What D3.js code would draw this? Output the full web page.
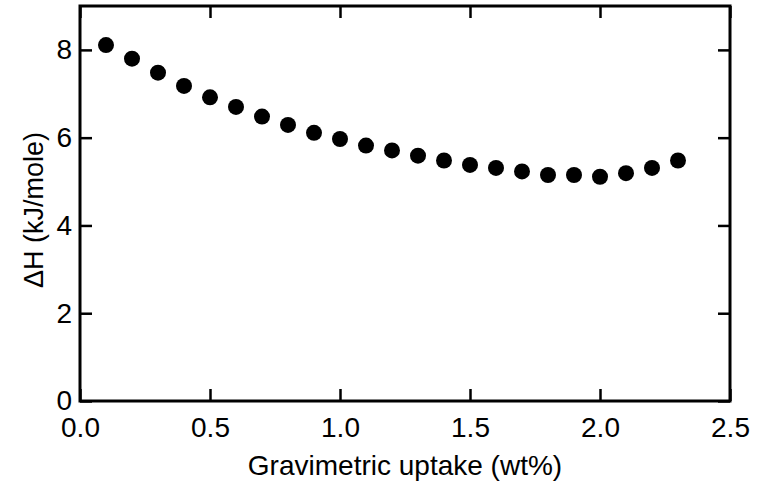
<!DOCTYPE html>
<html><head><meta charset="utf-8">
<script src="https://cdn.jsdelivr.net/npm/d3@7"></script>
<style>body{margin:0;background:#fff}svg{display:block}</style>
</head><body>
<script>
const uptake = [0.1,0.2,0.3,0.4,0.5,0.6,0.7,0.8,0.9,1.0,1.1,1.2,1.3,1.4,1.5,1.6,1.7,1.8,1.9,2.0,2.1,2.2,2.3];
const deltaH = [8.11,7.80,7.48,7.18,6.92,6.70,6.48,6.29,6.11,5.97,5.82,5.71,5.59,5.48,5.38,5.31,5.23,5.15,5.15,5.11,5.19,5.31,5.48];
const xTicks = [0,0.5,1.0,1.5,2.0,2.5];
const yTicks = [0,2,4,6,8];
const xTitle = "Gravimetric uptake (wt%)";
const yTitle = "\u0394H (kJ/mole)";

const W=765,H=483;
const m={left:80,right:35,top:6,bottom:82};
const svg=d3.select("body").append("svg").attr("width",W).attr("height",H);
const x=d3.scaleLinear().domain([0,2.5]).range([m.left,W-m.right]);
const y=d3.scaleLinear().domain([0,9]).range([H-m.bottom,m.top]);
const font="Liberation Sans, Arial, sans-serif";
const tl=12, fs=28;

function style(g){
  g.select(".domain").remove();
  g.selectAll(".tick line").attr("stroke","#000").attr("stroke-width",2.5);
  g.selectAll(".tick text").attr("font-family",font).attr("font-size",fs).attr("fill","#000");
}
// bottom
svg.append("g").attr("transform",`translate(0,${y(0)})`)
  .call(d3.axisBottom(x).tickValues(xTicks).tickFormat(d3.format(".1f")).tickSize(-tl))
  .call(style).call(g=>g.selectAll(".tick text").attr("y",16).attr("dy","0.72em"));
// top
svg.append("g").attr("transform",`translate(0,${y(9)})`)
  .call(d3.axisTop(x).tickValues(xTicks).tickFormat("").tickSize(-tl)).call(style);
// left
svg.append("g").attr("transform",`translate(${x(0)},0)`)
  .call(d3.axisLeft(y).tickValues(yTicks).tickFormat(d3.format("d")).tickSize(-tl).tickPadding(8))
  .call(style);
// right
svg.append("g").attr("transform",`translate(${x(2.5)},0)`)
  .call(d3.axisRight(y).tickValues(yTicks).tickFormat("").tickSize(-tl)).call(style);

// frame
svg.append("rect").attr("x",x(0)).attr("y",y(9)).attr("width",x(2.5)-x(0)).attr("height",y(0)-y(9))
  .attr("fill","none").attr("stroke","#000").attr("stroke-width",3);

// points
svg.append("g").selectAll("circle").data(uptake).join("circle")
  .attr("cx",d=>x(d)).attr("cy",(d,i)=>y(deltaH[i])).attr("r",8).attr("fill","#000");

// titles
svg.append("text").attr("x",(x(0)+x(2.5))/2).attr("y",475).attr("text-anchor","middle")
  .attr("font-family",font).attr("font-size",fs).text(xTitle);
svg.append("text").attr("transform",`translate(43,210) rotate(-90)`).attr("text-anchor","middle")
  .attr("font-family",font).attr("font-size",27).text(yTitle);
</script>
</body></html>
